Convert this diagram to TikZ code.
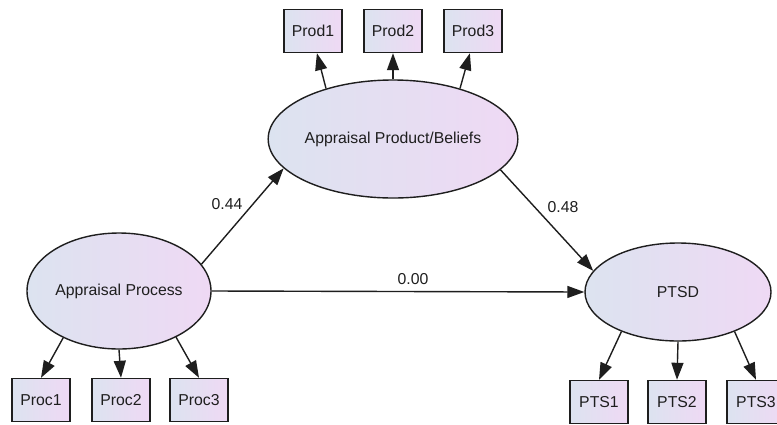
\documentclass[tikz,border=0pt]{standalone}
\usepackage{fontspec}
\setmainfont{Liberation Sans}
\usetikzlibrary{shapes.geometric,arrows.meta}
\definecolor{leftc}{RGB}{220,227,240}
\definecolor{rightc}{RGB}{239,217,244}
\definecolor{inkc}{RGB}{30,30,30}
\tikzset{
  latent/.style={ellipse, draw=inkc, line width=1.4pt, left color=leftc, right color=rightc, inner sep=0pt, text=inkc, font=\fontsize{15.8}{18}\selectfont},
  obsbox/.style={rectangle, draw=inkc, line width=1.4pt, left color=leftc, right color=rightc, minimum width=58pt, minimum height=43pt, inner sep=0pt, text=inkc, font=\fontsize{15.8}{18}\selectfont},
  path/.style={line width=1.4pt, draw=inkc, -{Triangle[length=17pt,width=12pt]}},
  coef/.style={text=inkc, font=\fontsize{15.8}{18}\selectfont}
}
\begin{document}
\begin{tikzpicture}[x=1pt,y=-1pt]
\useasboundingbox (0,0) rectangle (777,424);
\fill[white] (0,0) rectangle (777,424);
% latent variables
\node[latent, minimum width=184pt, minimum height=116pt] (AP) at (119,291) {Appraisal Process};
\node[latent, minimum width=216pt, minimum height=118pt] (APB) at (393,139) {Appraisal Product/Beliefs};
\node[latent, minimum width=186pt, minimum height=98pt] (PTSD) at (678,292) {PTSD};
% indicators
\node[obsbox] (Prod1) at (313,31) {Prod1};
\node[obsbox] (Prod2) at (393,31) {Prod2};
\node[obsbox] (Prod3) at (473,31) {Prod3};
\node[obsbox] (Proc1) at (41,400) {Proc1};
\node[obsbox] (Proc2) at (121,400) {Proc2};
\node[obsbox] (Proc3) at (199,400) {Proc3};
\node[obsbox] (PTS1) at (599,402) {PTS1};
\node[obsbox] (PTS2) at (677,402) {PTS2};
\node[obsbox] (PTS3) at (756,402) {PTS3};
% structural paths
\draw[path] (AP.18) -- (APB.195);
\draw[path] (APB.-16) -- (PTSD.166);
\draw[path] (AP.east) -- (PTSD.west);
% measurement paths
\draw[path] (APB.143) -- (Prod1.-80);
\draw[path] (APB.north) -- (Prod2.south);
\draw[path] (APB.37) -- (Prod3.-98);
\draw[path] (AP.220) -- (Proc1.north);
\draw[path] (AP.south) -- (Proc2.north);
\draw[path] (AP.321) -- (Proc3.north);
\draw[path] (PTSD.215) -- (PTS1.north);
\draw[path] (PTSD.south) -- (PTS2.north);
\draw[path] (PTSD.325) -- (PTS3.north);
% coefficients
\node[coef] (c1) at (227,204) {0.44};
\node[coef] (c2) at (563,207) {0.48};
\node[coef] (c3) at (413,279) {0.00};
\end{tikzpicture}
\end{document}
